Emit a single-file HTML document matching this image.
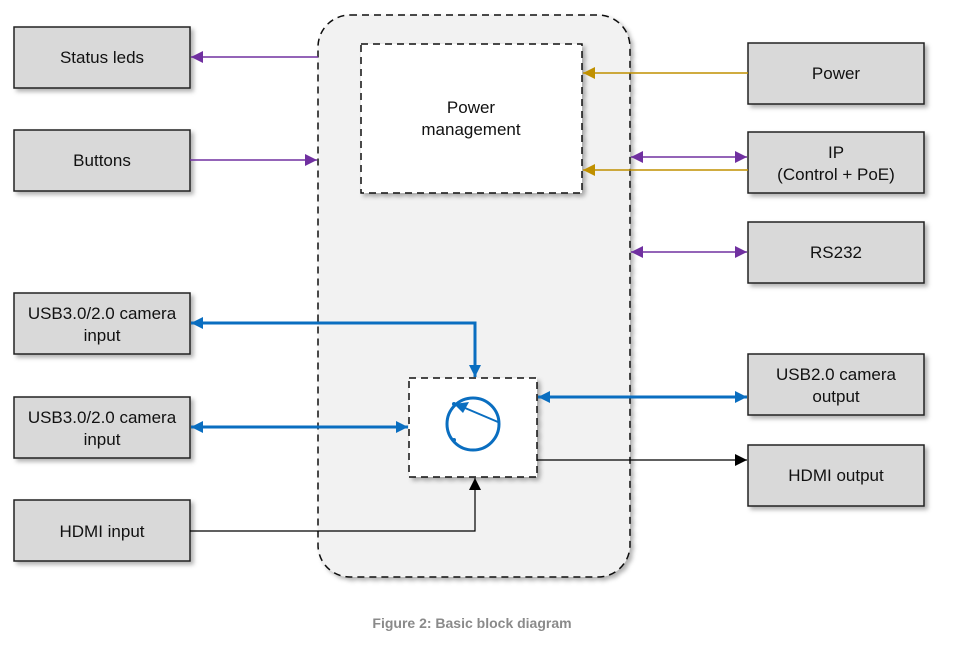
<!DOCTYPE html>
<html><head><meta charset="utf-8"><style>
html,body{margin:0;padding:0;background:#fff;}
svg{display:block;}
text{font-family:"Liberation Sans",Arial,sans-serif;font-size:17px;fill:#111;}
</style></head><body>
<svg width="955" height="659" viewBox="0 0 955 659" xmlns="http://www.w3.org/2000/svg">
<defs>
<filter id="sh" x="-10%" y="-10%" width="130%" height="130%"><feDropShadow dx="3" dy="3" stdDeviation="2" flood-color="#000" flood-opacity="0.3"/></filter>
<marker id="ap" viewBox="0 0 10 10" refX="10" refY="5" markerWidth="16" markerHeight="12" orient="auto-start-reverse" markerUnits="userSpaceOnUse"><path d="M0,0 L10,5 L0,10z" fill="#7030a0"/></marker>
<marker id="ag" viewBox="0 0 10 10" refX="10" refY="5" markerWidth="16" markerHeight="12" orient="auto-start-reverse" markerUnits="userSpaceOnUse"><path d="M0,0 L10,5 L0,10z" fill="#c09000"/></marker>
<marker id="ab" viewBox="0 0 10 10" refX="10" refY="5" markerWidth="16" markerHeight="12" orient="auto-start-reverse" markerUnits="userSpaceOnUse"><path d="M0,0 L10,5 L0,10z" fill="#0a6ec0"/></marker>
<marker id="ak" viewBox="0 0 10 10" refX="10" refY="5" markerWidth="16" markerHeight="12" orient="auto-start-reverse" markerUnits="userSpaceOnUse"><path d="M0,0 L10,5 L0,10z" fill="#000"/></marker>
</defs>
<rect x="318" y="15" width="312" height="562" rx="32" fill="#f2f2f2" stroke="#111" stroke-width="1.5" stroke-dasharray="7,5" filter="url(#sh)"/>
<rect x="361" y="44" width="221" height="149" fill="#fff" stroke="#111" stroke-width="1.5" stroke-dasharray="7,5" filter="url(#sh)"/>
<text x="471" y="113" text-anchor="middle">Power</text>
<text x="471" y="135" text-anchor="middle">management</text>
<rect x="409" y="378" width="128" height="99" fill="#fff" stroke="#111" stroke-width="1.5" stroke-dasharray="7,5" filter="url(#sh)"/>
<circle cx="473" cy="424" r="26" fill="none" stroke="#0a6ec0" stroke-width="3"/>
<line x1="498" y1="422" x2="458" y2="405" stroke="#0a6ec0" stroke-width="2"/>
<path d="M454,404 L469,402 L463,413z" fill="#0a6ec0"/>
<circle cx="454" cy="404" r="2" fill="#0a6ec0"/><circle cx="454" cy="440" r="2" fill="#0a6ec0"/>
<g fill="#d9d9d9" stroke="#222" stroke-width="1.5" filter="url(#sh)">
<rect x="14" y="27" width="176" height="61"/><rect x="14" y="130" width="176" height="61"/>
<rect x="14" y="293" width="176" height="61"/><rect x="14" y="397" width="176" height="61"/>
<rect x="14" y="500" width="176" height="61"/>
<rect x="748" y="43" width="176" height="61"/><rect x="748" y="132" width="176" height="61"/>
<rect x="748" y="222" width="176" height="61"/><rect x="748" y="354" width="176" height="61"/>
<rect x="748" y="445" width="176" height="61"/>
</g>
<g text-anchor="middle">
<text x="102" y="63">Status leds</text><text x="102" y="166">Buttons</text>
<text x="102" y="319">USB3.0/2.0 camera</text><text x="102" y="341">input</text>
<text x="102" y="423">USB3.0/2.0 camera</text><text x="102" y="445">input</text>
<text x="102" y="537">HDMI input</text>
<text x="836" y="79">Power</text>
<text x="836" y="158">IP</text><text x="836" y="180">(Control + PoE)</text>
<text x="836" y="258">RS232</text>
<text x="836" y="380">USB2.0 camera</text><text x="836" y="402">output</text>
<text x="836" y="481">HDMI output</text>
</g>
<g fill="none" stroke-width="1.5">
<line x1="318" y1="57" x2="191" y2="57" stroke="#7030a0" marker-end="url(#ap)"/>
<line x1="190" y1="160" x2="317" y2="160" stroke="#7030a0" marker-end="url(#ap)"/>
<line x1="748" y1="73" x2="583" y2="73" stroke="#c09000" marker-end="url(#ag)"/>
<line x1="631" y1="157" x2="747" y2="157" stroke="#7030a0" marker-start="url(#ap)" marker-end="url(#ap)"/>
<line x1="748" y1="170" x2="583" y2="170" stroke="#c09000" marker-end="url(#ag)"/>
<line x1="631" y1="252" x2="747" y2="252" stroke="#7030a0" marker-start="url(#ap)" marker-end="url(#ap)"/>
<polyline points="191,323 475,323 475,377" stroke="#0a6ec0" stroke-width="3" marker-start="url(#ab)" marker-end="url(#ab)"/>
<line x1="191" y1="427" x2="408" y2="427" stroke="#0a6ec0" stroke-width="3" marker-start="url(#ab)" marker-end="url(#ab)"/>
<line x1="538" y1="397" x2="747" y2="397" stroke="#0a6ec0" stroke-width="3" marker-start="url(#ab)" marker-end="url(#ab)"/>
<line x1="537" y1="460" x2="747" y2="460" stroke="#000" stroke-width="1.2" marker-end="url(#ak)"/>
<polyline points="190,531 475,531 475,478" stroke="#000" stroke-width="1.2" marker-end="url(#ak)"/>
</g>
<text x="472" y="628" text-anchor="middle" style="font-size:14px;font-weight:bold;fill:#8a8a8a">Figure 2: Basic block diagram</text>
</svg>
</body></html>
